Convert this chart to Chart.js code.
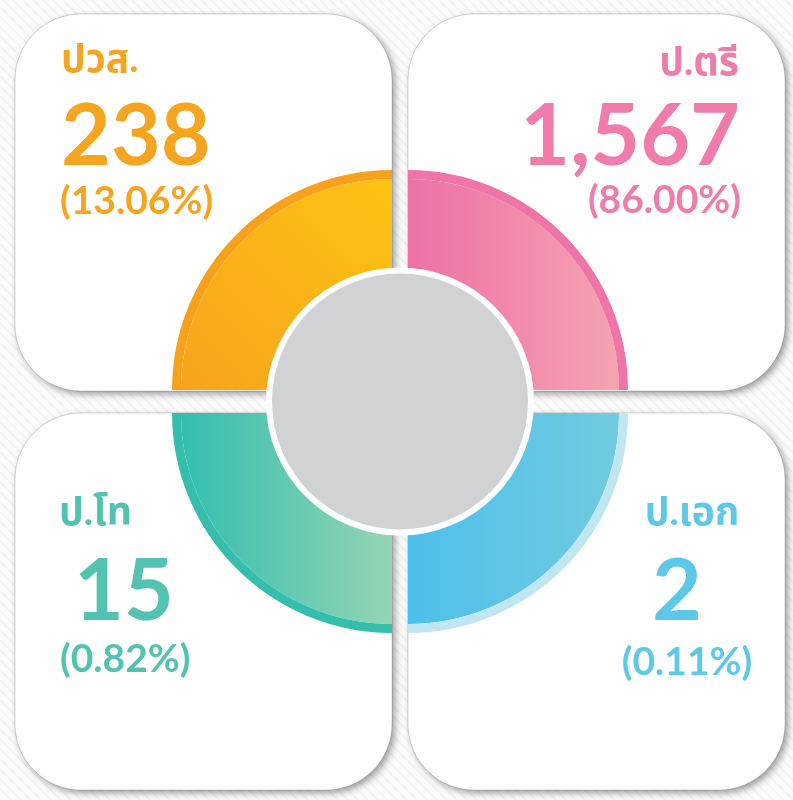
<!DOCTYPE html>
<html>
<head>
<meta charset="utf-8">
<script src="https://cdn.jsdelivr.net/npm/chart.js@4"></script>
<style>
  html, body { margin: 0; padding: 0; }
  body {
    width: 793px; height: 800px; overflow: hidden;
    background: repeating-linear-gradient(45deg, #f3f3f3 0 2px, #fbfbfb 2px 7px);
  }
  canvas { display: block; }
</style>
</head>
<body>
<canvas id="levels" width="793" height="800"></canvas>
<script>
// graduates by level of study
const labels = ['ปวส.', 'ป.ตรี', 'ป.โท', 'ป.เอก'];
const counts = [238, 1567, 15, 2];
const percents = [13.06, 86.00, 0.82, 0.11];
// every level gets one quarter of the ring, drawn clockwise from 9 o'clock
const ringOrder = [0, 1, 3, 2];
const ringShare = [1, 1, 1, 1];

const textColors = ['#f6a520', '#f07cac', '#52c3b1', '#5ec8e8'];
const bandColors = ['#f7a21c', '#ef74a8', '#36bead', '#c0e7f1'];

const FONT = '"Lato", "Noto Sans Thai", "Noto Sans", sans-serif';

function roundRect(ctx, x, y, w, h, r) {
    ctx.beginPath();
    ctx.moveTo(x + r, y);
    ctx.arcTo(x + w, y, x + w, y + h, r);
    ctx.arcTo(x + w, y + h, x, y + h, r);
    ctx.arcTo(x, y + h, x, y, r);
    ctx.arcTo(x, y, x + w, y, r);
    ctx.closePath();
}

// main ring fill, one gradient per level
function ringFill(context) {
    const chart = context.chart;
    const a = chart.chartArea;
    if (!a) return '#ccc';
    const g = chart.ctx;
    const cx = (a.left + a.right) / 2, cy = (a.top + a.bottom) / 2;
    const level = ringOrder[context.dataIndex];
    let grad;
    if (level === 0) {
        grad = g.createLinearGradient(cx, cy - 220, cx - 220, cy);
        grad.addColorStop(0, '#fdc313');
        grad.addColorStop(1, '#f7a31d');
    } else if (level === 1) {
        grad = g.createLinearGradient(cx, 0, cx + 220, 0);
        grad.addColorStop(0, '#ee6ea6');
        grad.addColorStop(1, '#f5a4b1');
    } else if (level === 2) {
        grad = g.createLinearGradient(cx - 220, 0, cx, 0);
        grad.addColorStop(0, '#33beaf');
        grad.addColorStop(1, '#98d5b4');
    } else {
        grad = g.createLinearGradient(cx, 0, cx + 215, 0);
        grad.addColorStop(0, '#4cbfec');
        grad.addColorStop(1, '#71cbdf');
    }
    return grad;
}

// pull each quarter out to the corner of its card
const quarterShift = {
    id: 'quarterShift',
    afterUpdate(chart) {
        chart.data.datasets.forEach((ds, i) => {
            chart.getDatasetMeta(i).data.forEach(arc => {
                const mid = (arc.startAngle + arc.endAngle) / 2;
                arc.x += Math.cos(mid) > 0 ? 8 : -8;
                arc.y += Math.sin(mid) > 0 ? 11.5 : -11.5;
            });
        });
    }
};

const cards = [
    [15, 14], [408, 14], [15, 413], [408, 413]
];

const cardsBehind = {
    id: 'cardsBehind',
    beforeDatasetsDraw(chart) {
        const g = chart.ctx;
        g.save();
        cards.forEach(([x, y]) => {
            g.save();
            g.shadowColor = 'rgba(0,0,0,0.38)';
            g.shadowBlur = 7;
            g.shadowOffsetX = 3;
            g.shadowOffsetY = 3;
            roundRect(g, x, y, 377, 377, 66);
            g.fillStyle = '#ffffff';
            g.fill();
            g.restore();
            roundRect(g, x, y, 377, 377, 66);
            g.strokeStyle = 'rgba(0,0,0,0.16)';
            g.lineWidth = 1;
            g.stroke();
        });
        g.restore();
    }
};

const hubAndText = {
    id: 'hubAndText',
    afterDatasetsDraw(chart) {
        const g = chart.ctx;
        const a = chart.chartArea;
        const cx = (a.left + a.right) / 2, cy = (a.top + a.bottom) / 2;
        g.save();
        g.beginPath();
        g.arc(cx, cy, 134, 0, Math.PI * 2);
        g.fillStyle = '#ffffff';
        g.fill();
        g.beginPath();
        g.arc(cx, cy, 128, 0, Math.PI * 2);
        g.fillStyle = '#d1d2d4';
        g.fill();

        // label, count and share for each card
        const spots = [
            { align: 'left', x: [61, 61, 60], y: [72, 165, 214] },
            { align: 'right', x: [739, 740, 741], y: [75, 165, 213] },
            { align: 'left', x: [59, 74, 60], y: [525, 620, 672] },
            { align: 'center', x: [692, 677, 687], y: [525, 620, 675] }
        ];
        labels.forEach((label, i) => {
            const s = spots[i];
            g.fillStyle = textColors[i];
            g.textAlign = s.align;
            g.textBaseline = 'alphabetic';
            g.font = 'bold 39px ' + FONT;
            g.fillText(label, s.x[0], s.y[0]);
            g.font = 'bold 86px ' + FONT;
            g.fillText(counts[i].toLocaleString('en-US'), s.x[1], s.y[1]);
            g.font = 'bold 39px ' + FONT;
            g.fillText('(' + percents[i].toFixed(2) + '%)', s.x[2], s.y[2]);
        });
        g.restore();
    }
};

new Chart(document.getElementById('levels'), {
    type: 'doughnut',
    data: {
        labels: ringOrder.map(i => labels[i]),
        datasets: [
            {
                data: ringShare,
                backgroundColor: ringOrder.map(i => bandColors[i]),
                borderWidth: 0,
                weight: 9
            },
            {
                data: ringShare,
                backgroundColor: ringFill,
                borderWidth: 0,
                weight: 101
            }
        ]
    },
    options: {
        responsive: false,
        animation: false,
        rotation: -90,
        radius: 220,
        cutout: 110,
        layout: { padding: { left: 180, right: 173, top: 182, bottom: 179 } },
        plugins: {
            legend: { display: false },
            tooltip: { enabled: false }
        },
        events: []
    },
    plugins: [quarterShift, cardsBehind, hubAndText]
});
</script>
</body>
</html>
